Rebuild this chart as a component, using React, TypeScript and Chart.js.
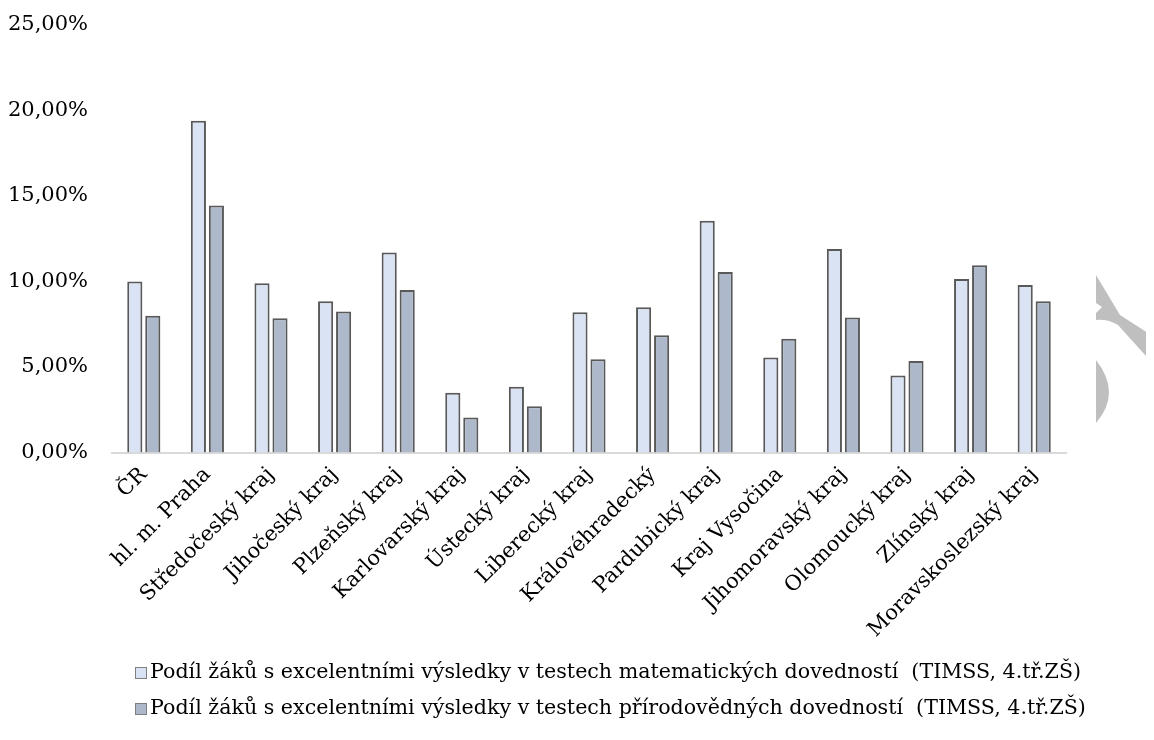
import React, { useEffect, useRef } from "react";
import { Chart, registerables } from "chart.js";

Chart.register(...registerables);

const categories = [
  "ČR",
  "hl. m. Praha",
  "Středočeský kraj",
  "Jihočeský kraj",
  "Plzeňský kraj",
  "Karlovarský kraj",
  "Ústecký kraj",
  "Liberecký kraj",
  "Královéhradecký",
  "Pardubický kraj",
  "Kraj Vysočina",
  "Jihomoravský kraj",
  "Olomoucký kraj",
  "Zlínský kraj",
  "Moravskoslezský kraj",
];

const mathValues = [10.0, 19.4, 9.9, 8.85, 11.7, 3.5, 3.85, 8.2, 8.5, 13.55, 5.55, 11.9, 4.5, 10.15, 9.8];
const scienceValues = [8.0, 14.45, 7.85, 8.25, 9.5, 2.05, 2.7, 5.45, 6.85, 10.55, 6.65, 7.9, 5.35, 10.95, 8.85];

const seriesLabels = [
  "Podíl žáků s excelentními výsledky v testech matematických dovedností  (TIMSS, 4.tř.ZŠ)",
  "Podíl žáků s excelentními výsledky v testech přírodovědných dovedností  (TIMSS, 4.tř.ZŠ)",
];

const yTicks = [0, 5, 10, 15, 20, 25];

const FONT = '"DejaVu Serif", serif';
const TEXT = "#000000";

const legendPlugin = {
  id: "customLegend",
  afterDraw(chart: any) {
    const ctx = chart.ctx;
    ctx.save();
    ctx.font = `20.6px ${FONT}`;
    ctx.textBaseline = "middle";
    ctx.textAlign = "left";
    const rows = [665, 701];
    chart.data.datasets.forEach((ds: any, i: number) => {
      const y = rows[i];
      const x = 127;
      ctx.fillStyle = ds.backgroundColor;
      ctx.fillRect(x, y - 6, 12, 12);
      ctx.strokeStyle = "#7F7F7F";
      ctx.lineWidth = 1;
      ctx.strokeRect(x + 0.5, y - 5.5, 11, 11);
      ctx.fillStyle = TEXT;
      ctx.fillText(ds.label, x + 15, y);
    });
    ctx.restore();
  },
};

const decorPlugin = {
  id: "decor",
  afterDraw(chart: any) {
    const ctx = chart.ctx;
    ctx.save();
    ctx.fillStyle = "#BFBFBF";
    ctx.beginPath();
    ctx.moveTo(1088, 267);
    ctx.lineTo(1112, 307);
    ctx.lineTo(1146, 329);
    ctx.lineTo(1146, 357);
    ctx.lineTo(1110, 317);
    ctx.quadraticCurveTo(1100, 311, 1088, 312);
    ctx.lineTo(1088, 305);
    ctx.lineTo(1094, 299);
    ctx.lineTo(1088, 295);
    ctx.closePath();
    ctx.fill();
    ctx.beginPath();
    ctx.moveTo(1088, 352);
    ctx.quadraticCurveTo(1114, 385, 1088, 415);
    ctx.closePath();
    ctx.fill();
    ctx.restore();
  },
};

export default function App() {
  const ref = useRef<HTMLCanvasElement | null>(null);

  useEffect(() => {
    if (!ref.current) return;
    const chart = new Chart(ref.current, {
      type: "bar",
      data: {
        labels: categories,
        datasets: [
          {
            label: seriesLabels[0],
            data: mathValues,
            backgroundColor: "#DAE3F3",
            borderColor: "#595959",
            borderWidth: 2,
            borderSkipped: "bottom",
            categoryPercentage: 0.566,
            barPercentage: 0.84,
          },
          {
            label: seriesLabels[1],
            data: scienceValues,
            backgroundColor: "#ADB9CA",
            borderColor: "#595959",
            borderWidth: 2,
            borderSkipped: "bottom",
            categoryPercentage: 0.566,
            barPercentage: 0.84,
          },
        ],
      },
      options: {
        animation: false,
        responsive: true,
        maintainAspectRatio: false,
        layout: { padding: { top: 17, right: 80, bottom: 0, left: 0 } },
        plugins: {
          legend: { display: false },
          tooltip: { enabled: false },
          title: { display: false },
        },
        scales: {
          x: {
            grid: { display: false, drawTicks: false },
            border: { display: true, color: "#D9D9D9", width: 2 },
            ticks: {
              autoSkip: false,
              maxRotation: 45,
              minRotation: 45,
              padding: 10,
              color: TEXT,
              font: { family: FONT, size: 21 },
            },
            afterFit(scale: any) {
              scale.height = 279.5;
            },
          },
          y: {
            min: 0,
            max: 25,
            afterBuildTicks(scale: any) {
              scale.ticks = yTicks.map((v) => ({ value: v }));
            },
            grid: { display: false, drawTicks: false },
            border: { display: false },
            ticks: {
              padding: 24,
              color: TEXT,
              font: { family: FONT, size: 21 },
              callback: (v: any) => Number(v).toFixed(2).replace(".", ",") + "%",
            },
            afterFit(scale: any) {
              scale.width = 104;
              scale.paddingTop = 13;
              scale.paddingBottom = 13;
            },
          },
        },
      },
      plugins: [legendPlugin, decorPlugin],
    });
    return () => chart.destroy();
  }, []);

  return (
    <div style={{ position: "relative", height: 724 }}>
      <canvas ref={ref} />
    </div>
  );
}
